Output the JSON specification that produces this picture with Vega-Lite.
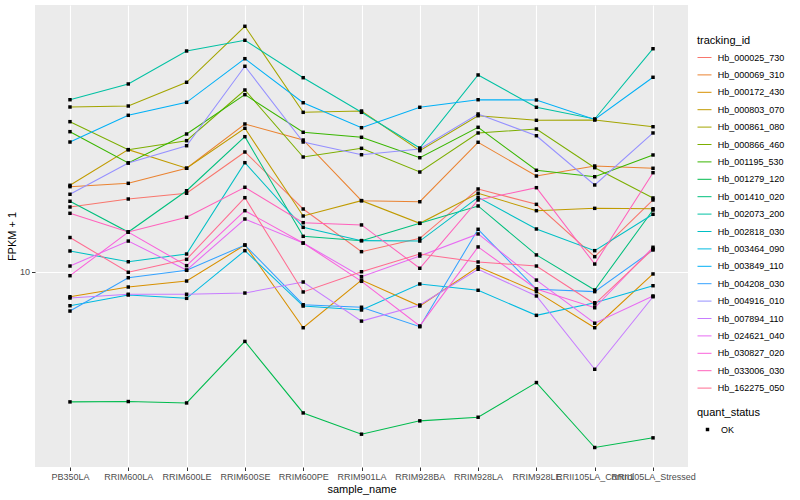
{
"$schema": "https://vega.github.io/schema/vega-lite/v6.json",
"width": 653, "height": 462,
"autosize": {"type": "none"},
"padding": {"left": 35, "top": 5, "right": 112, "bottom": 33},
"background": "white",
"config": {
  "font": "Liberation Sans",
  "view": {"fill": "#EBEBEB", "stroke": null},
  "axis": {"domain": false, "grid": true, "gridColor": "white", "gridWidth": 1.1, "tickColor": "#333333", "tickSize": 3.5, "labelColor": "#4D4D4D", "labelFontSize": 9, "labelPadding": 2, "titleFontSize": 11, "titleFontWeight": "normal", "titleColor": "black", "titlePadding": 2}
},
"datasets": {
"expr": [
{"tracking_id":"Hb_000025_730","sample_name":"PB350LA","FPKM":16.47,"quant_status":"OK"},
{"tracking_id":"Hb_000025_730","sample_name":"RRIM600LA","FPKM":17.51,"quant_status":"OK"},
{"tracking_id":"Hb_000025_730","sample_name":"RRIM600LE","FPKM":18.30,"quant_status":"OK"},
{"tracking_id":"Hb_000025_730","sample_name":"RRIM600SE","FPKM":25.12,"quant_status":"OK"},
{"tracking_id":"Hb_000025_730","sample_name":"RRIM600PE","FPKM":16.22,"quant_status":"OK"},
{"tracking_id":"Hb_000025_730","sample_name":"RRIM901LA","FPKM":11.69,"quant_status":"OK"},
{"tracking_id":"Hb_000025_730","sample_name":"RRIM928BA","FPKM":12.95,"quant_status":"OK"},
{"tracking_id":"Hb_000025_730","sample_name":"RRIM928LA","FPKM":18.91,"quant_status":"OK"},
{"tracking_id":"Hb_000025_730","sample_name":"RRIM928LE","FPKM":16.81,"quant_status":"OK"},
{"tracking_id":"Hb_000025_730","sample_name":"RRII105LA_Control","FPKM":11.25,"quant_status":"OK"},
{"tracking_id":"Hb_000025_730","sample_name":"RRII105LA_Stressed","FPKM":17.38,"quant_status":"OK"},
{"tracking_id":"Hb_000069_310","sample_name":"PB350LA","FPKM":19.25,"quant_status":"OK"},
{"tracking_id":"Hb_000069_310","sample_name":"RRIM600LA","FPKM":19.75,"quant_status":"OK"},
{"tracking_id":"Hb_000069_310","sample_name":"RRIM600LE","FPKM":22.17,"quant_status":"OK"},
{"tracking_id":"Hb_000069_310","sample_name":"RRIM600SE","FPKM":31.14,"quant_status":"OK"},
{"tracking_id":"Hb_000069_310","sample_name":"RRIM600PE","FPKM":27.54,"quant_status":"OK"},
{"tracking_id":"Hb_000069_310","sample_name":"RRIM901LA","FPKM":17.29,"quant_status":"OK"},
{"tracking_id":"Hb_000069_310","sample_name":"RRIM928BA","FPKM":17.15,"quant_status":"OK"},
{"tracking_id":"Hb_000069_310","sample_name":"RRIM928LA","FPKM":27.06,"quant_status":"OK"},
{"tracking_id":"Hb_000069_310","sample_name":"RRIM928LE","FPKM":20.89,"quant_status":"OK"},
{"tracking_id":"Hb_000069_310","sample_name":"RRII105LA_Control","FPKM":22.56,"quant_status":"OK"},
{"tracking_id":"Hb_000069_310","sample_name":"RRII105LA_Stressed","FPKM":22.17,"quant_status":"OK"},
{"tracking_id":"Hb_000172_430","sample_name":"PB350LA","FPKM":8.27,"quant_status":"OK"},
{"tracking_id":"Hb_000172_430","sample_name":"RRIM600LA","FPKM":8.91,"quant_status":"OK"},
{"tracking_id":"Hb_000172_430","sample_name":"RRIM600LE","FPKM":9.33,"quant_status":"OK"},
{"tracking_id":"Hb_000172_430","sample_name":"RRIM600SE","FPKM":12.30,"quant_status":"OK"},
{"tracking_id":"Hb_000172_430","sample_name":"RRIM600PE","FPKM":6.52,"quant_status":"OK"},
{"tracking_id":"Hb_000172_430","sample_name":"RRIM901LA","FPKM":9.40,"quant_status":"OK"},
{"tracking_id":"Hb_000172_430","sample_name":"RRIM928BA","FPKM":7.70,"quant_status":"OK"},
{"tracking_id":"Hb_000172_430","sample_name":"RRIM928LA","FPKM":10.41,"quant_status":"OK"},
{"tracking_id":"Hb_000172_430","sample_name":"RRIM928LE","FPKM":8.60,"quant_status":"OK"},
{"tracking_id":"Hb_000172_430","sample_name":"RRII105LA_Control","FPKM":6.52,"quant_status":"OK"},
{"tracking_id":"Hb_000172_430","sample_name":"RRII105LA_Stressed","FPKM":9.85,"quant_status":"OK"},
{"tracking_id":"Hb_000803_070","sample_name":"PB350LA","FPKM":19.45,"quant_status":"OK"},
{"tracking_id":"Hb_000803_070","sample_name":"RRIM600LA","FPKM":25.57,"quant_status":"OK"},
{"tracking_id":"Hb_000803_070","sample_name":"RRIM600LE","FPKM":22.17,"quant_status":"OK"},
{"tracking_id":"Hb_000803_070","sample_name":"RRIM600SE","FPKM":30.13,"quant_status":"OK"},
{"tracking_id":"Hb_000803_070","sample_name":"RRIM600PE","FPKM":15.37,"quant_status":"OK"},
{"tracking_id":"Hb_000803_070","sample_name":"RRIM901LA","FPKM":17.29,"quant_status":"OK"},
{"tracking_id":"Hb_000803_070","sample_name":"RRIM928BA","FPKM":14.53,"quant_status":"OK"},
{"tracking_id":"Hb_000803_070","sample_name":"RRIM928LA","FPKM":18.30,"quant_status":"OK"},
{"tracking_id":"Hb_000803_070","sample_name":"RRIM928LE","FPKM":16.01,"quant_status":"OK"},
{"tracking_id":"Hb_000803_070","sample_name":"RRII105LA_Control","FPKM":16.30,"quant_status":"OK"},
{"tracking_id":"Hb_000803_070","sample_name":"RRII105LA_Stressed","FPKM":16.25,"quant_status":"OK"},
{"tracking_id":"Hb_000861_080","sample_name":"PB350LA","FPKM":35.48,"quant_status":"OK"},
{"tracking_id":"Hb_000861_080","sample_name":"RRIM600LA","FPKM":35.75,"quant_status":"OK"},
{"tracking_id":"Hb_000861_080","sample_name":"RRIM600LE","FPKM":42.89,"quant_status":"OK"},
{"tracking_id":"Hb_000861_080","sample_name":"RRIM600SE","FPKM":65.92,"quant_status":"OK"},
{"tracking_id":"Hb_000861_080","sample_name":"RRIM600PE","FPKM":34.06,"quant_status":"OK"},
{"tracking_id":"Hb_000861_080","sample_name":"RRIM901LA","FPKM":34.41,"quant_status":"OK"},
{"tracking_id":"Hb_000861_080","sample_name":"RRIM928BA","FPKM":25.37,"quant_status":"OK"},
{"tracking_id":"Hb_000861_080","sample_name":"RRIM928LA","FPKM":33.19,"quant_status":"OK"},
{"tracking_id":"Hb_000861_080","sample_name":"RRIM928LE","FPKM":32.04,"quant_status":"OK"},
{"tracking_id":"Hb_000861_080","sample_name":"RRII105LA_Control","FPKM":32.11,"quant_status":"OK"},
{"tracking_id":"Hb_000861_080","sample_name":"RRII105LA_Stressed","FPKM":30.50,"quant_status":"OK"},
{"tracking_id":"Hb_000866_460","sample_name":"PB350LA","FPKM":31.70,"quant_status":"OK"},
{"tracking_id":"Hb_000866_460","sample_name":"RRIM600LA","FPKM":25.57,"quant_status":"OK"},
{"tracking_id":"Hb_000866_460","sample_name":"RRIM600LE","FPKM":27.40,"quant_status":"OK"},
{"tracking_id":"Hb_000866_460","sample_name":"RRIM600SE","FPKM":40.43,"quant_status":"OK"},
{"tracking_id":"Hb_000866_460","sample_name":"RRIM600PE","FPKM":24.17,"quant_status":"OK"},
{"tracking_id":"Hb_000866_460","sample_name":"RRIM901LA","FPKM":25.84,"quant_status":"OK"},
{"tracking_id":"Hb_000866_460","sample_name":"RRIM928BA","FPKM":21.54,"quant_status":"OK"},
{"tracking_id":"Hb_000866_460","sample_name":"RRIM928LA","FPKM":29.07,"quant_status":"OK"},
{"tracking_id":"Hb_000866_460","sample_name":"RRIM928LE","FPKM":29.97,"quant_status":"OK"},
{"tracking_id":"Hb_000866_460","sample_name":"RRII105LA_Control","FPKM":22.27,"quant_status":"OK"},
{"tracking_id":"Hb_000866_460","sample_name":"RRII105LA_Stressed","FPKM":17.65,"quant_status":"OK"},
{"tracking_id":"Hb_001195_530","sample_name":"PB350LA","FPKM":29.36,"quant_status":"OK"},
{"tracking_id":"Hb_001195_530","sample_name":"RRIM600LA","FPKM":23.09,"quant_status":"OK"},
{"tracking_id":"Hb_001195_530","sample_name":"RRIM600LE","FPKM":28.84,"quant_status":"OK"},
{"tracking_id":"Hb_001195_530","sample_name":"RRIM600SE","FPKM":39.00,"quant_status":"OK"},
{"tracking_id":"Hb_001195_530","sample_name":"RRIM600PE","FPKM":29.22,"quant_status":"OK"},
{"tracking_id":"Hb_001195_530","sample_name":"RRIM901LA","FPKM":28.12,"quant_status":"OK"},
{"tracking_id":"Hb_001195_530","sample_name":"RRIM928BA","FPKM":24.04,"quant_status":"OK"},
{"tracking_id":"Hb_001195_530","sample_name":"RRIM928LA","FPKM":30.36,"quant_status":"OK"},
{"tracking_id":"Hb_001195_530","sample_name":"RRIM928LE","FPKM":21.83,"quant_status":"OK"},
{"tracking_id":"Hb_001195_530","sample_name":"RRII105LA_Control","FPKM":20.78,"quant_status":"OK"},
{"tracking_id":"Hb_001195_530","sample_name":"RRII105LA_Stressed","FPKM":24.55,"quant_status":"OK"},
{"tracking_id":"Hb_001279_120","sample_name":"PB350LA","FPKM":3.69,"quant_status":"OK"},
{"tracking_id":"Hb_001279_120","sample_name":"RRIM600LA","FPKM":3.70,"quant_status":"OK"},
{"tracking_id":"Hb_001279_120","sample_name":"RRIM600LE","FPKM":3.66,"quant_status":"OK"},
{"tracking_id":"Hb_001279_120","sample_name":"RRIM600SE","FPKM":5.87,"quant_status":"OK"},
{"tracking_id":"Hb_001279_120","sample_name":"RRIM600PE","FPKM":3.39,"quant_status":"OK"},
{"tracking_id":"Hb_001279_120","sample_name":"RRIM901LA","FPKM":2.88,"quant_status":"OK"},
{"tracking_id":"Hb_001279_120","sample_name":"RRIM928BA","FPKM":3.19,"quant_status":"OK"},
{"tracking_id":"Hb_001279_120","sample_name":"RRIM928LA","FPKM":3.28,"quant_status":"OK"},
{"tracking_id":"Hb_001279_120","sample_name":"RRIM928LE","FPKM":4.28,"quant_status":"OK"},
{"tracking_id":"Hb_001279_120","sample_name":"RRII105LA_Control","FPKM":2.60,"quant_status":"OK"},
{"tracking_id":"Hb_001279_120","sample_name":"RRII105LA_Stressed","FPKM":2.80,"quant_status":"OK"},
{"tracking_id":"Hb_001410_020","sample_name":"PB350LA","FPKM":17.21,"quant_status":"OK"},
{"tracking_id":"Hb_001410_020","sample_name":"RRIM600LA","FPKM":13.59,"quant_status":"OK"},
{"tracking_id":"Hb_001410_020","sample_name":"RRIM600LE","FPKM":18.66,"quant_status":"OK"},
{"tracking_id":"Hb_001410_020","sample_name":"RRIM600SE","FPKM":28.25,"quant_status":"OK"},
{"tracking_id":"Hb_001410_020","sample_name":"RRIM600PE","FPKM":13.15,"quant_status":"OK"},
{"tracking_id":"Hb_001410_020","sample_name":"RRIM901LA","FPKM":12.72,"quant_status":"OK"},
{"tracking_id":"Hb_001410_020","sample_name":"RRIM928BA","FPKM":14.53,"quant_status":"OK"},
{"tracking_id":"Hb_001410_020","sample_name":"RRIM928LA","FPKM":16.60,"quant_status":"OK"},
{"tracking_id":"Hb_001410_020","sample_name":"RRIM928LE","FPKM":11.40,"quant_status":"OK"},
{"tracking_id":"Hb_001410_020","sample_name":"RRII105LA_Control","FPKM":8.71,"quant_status":"OK"},
{"tracking_id":"Hb_001410_020","sample_name":"RRII105LA_Stressed","FPKM":16.09,"quant_status":"OK"},
{"tracking_id":"Hb_002073_200","sample_name":"PB350LA","FPKM":37.52,"quant_status":"OK"},
{"tracking_id":"Hb_002073_200","sample_name":"RRIM600LA","FPKM":42.34,"quant_status":"OK"},
{"tracking_id":"Hb_002073_200","sample_name":"RRIM600LE","FPKM":54.54,"quant_status":"OK"},
{"tracking_id":"Hb_002073_200","sample_name":"RRIM600SE","FPKM":59.20,"quant_status":"OK"},
{"tracking_id":"Hb_002073_200","sample_name":"RRIM600PE","FPKM":44.43,"quant_status":"OK"},
{"tracking_id":"Hb_002073_200","sample_name":"RRIM901LA","FPKM":34.06,"quant_status":"OK"},
{"tracking_id":"Hb_002073_200","sample_name":"RRIM928BA","FPKM":25.90,"quant_status":"OK"},
{"tracking_id":"Hb_002073_200","sample_name":"RRIM928LA","FPKM":45.37,"quant_status":"OK"},
{"tracking_id":"Hb_002073_200","sample_name":"RRIM928LE","FPKM":35.40,"quant_status":"OK"},
{"tracking_id":"Hb_002073_200","sample_name":"RRII105LA_Control","FPKM":32.36,"quant_status":"OK"},
{"tracking_id":"Hb_002073_200","sample_name":"RRII105LA_Stressed","FPKM":55.50,"quant_status":"OK"},
{"tracking_id":"Hb_002818_030","sample_name":"PB350LA","FPKM":11.75,"quant_status":"OK"},
{"tracking_id":"Hb_002818_030","sample_name":"RRIM600LA","FPKM":10.82,"quant_status":"OK"},
{"tracking_id":"Hb_002818_030","sample_name":"RRIM600LE","FPKM":11.48,"quant_status":"OK"},
{"tracking_id":"Hb_002818_030","sample_name":"RRIM600SE","FPKM":23.14,"quant_status":"OK"},
{"tracking_id":"Hb_002818_030","sample_name":"RRIM600PE","FPKM":14.09,"quant_status":"OK"},
{"tracking_id":"Hb_002818_030","sample_name":"RRIM901LA","FPKM":12.72,"quant_status":"OK"},
{"tracking_id":"Hb_002818_030","sample_name":"RRIM928BA","FPKM":12.68,"quant_status":"OK"},
{"tracking_id":"Hb_002818_030","sample_name":"RRIM928LA","FPKM":17.74,"quant_status":"OK"},
{"tracking_id":"Hb_002818_030","sample_name":"RRIM928LE","FPKM":13.91,"quant_status":"OK"},
{"tracking_id":"Hb_002818_030","sample_name":"RRII105LA_Control","FPKM":11.78,"quant_status":"OK"},
{"tracking_id":"Hb_002818_030","sample_name":"RRII105LA_Stressed","FPKM":15.57,"quant_status":"OK"},
{"tracking_id":"Hb_003464_090","sample_name":"PB350LA","FPKM":7.72,"quant_status":"OK"},
{"tracking_id":"Hb_003464_090","sample_name":"RRIM600LA","FPKM":8.38,"quant_status":"OK"},
{"tracking_id":"Hb_003464_090","sample_name":"RRIM600LE","FPKM":8.17,"quant_status":"OK"},
{"tracking_id":"Hb_003464_090","sample_name":"RRIM600SE","FPKM":11.78,"quant_status":"OK"},
{"tracking_id":"Hb_003464_090","sample_name":"RRIM600PE","FPKM":7.70,"quant_status":"OK"},
{"tracking_id":"Hb_003464_090","sample_name":"RRIM901LA","FPKM":7.47,"quant_status":"OK"},
{"tracking_id":"Hb_003464_090","sample_name":"RRIM928BA","FPKM":9.12,"quant_status":"OK"},
{"tracking_id":"Hb_003464_090","sample_name":"RRIM928LA","FPKM":8.69,"quant_status":"OK"},
{"tracking_id":"Hb_003464_090","sample_name":"RRIM928LE","FPKM":7.17,"quant_status":"OK"},
{"tracking_id":"Hb_003464_090","sample_name":"RRII105LA_Control","FPKM":7.90,"quant_status":"OK"},
{"tracking_id":"Hb_003464_090","sample_name":"RRII105LA_Stressed","FPKM":9.00,"quant_status":"OK"},
{"tracking_id":"Hb_003849_110","sample_name":"PB350LA","FPKM":27.12,"quant_status":"OK"},
{"tracking_id":"Hb_003849_110","sample_name":"RRIM600LA","FPKM":33.29,"quant_status":"OK"},
{"tracking_id":"Hb_003849_110","sample_name":"RRIM600LE","FPKM":36.78,"quant_status":"OK"},
{"tracking_id":"Hb_003849_110","sample_name":"RRIM600SE","FPKM":51.41,"quant_status":"OK"},
{"tracking_id":"Hb_003849_110","sample_name":"RRIM600PE","FPKM":36.67,"quant_status":"OK"},
{"tracking_id":"Hb_003849_110","sample_name":"RRIM901LA","FPKM":30.27,"quant_status":"OK"},
{"tracking_id":"Hb_003849_110","sample_name":"RRIM928BA","FPKM":35.40,"quant_status":"OK"},
{"tracking_id":"Hb_003849_110","sample_name":"RRIM928LA","FPKM":37.52,"quant_status":"OK"},
{"tracking_id":"Hb_003849_110","sample_name":"RRIM928LE","FPKM":37.44,"quant_status":"OK"},
{"tracking_id":"Hb_003849_110","sample_name":"RRII105LA_Control","FPKM":32.23,"quant_status":"OK"},
{"tracking_id":"Hb_003849_110","sample_name":"RRII105LA_Stressed","FPKM":44.57,"quant_status":"OK"},
{"tracking_id":"Hb_004208_030","sample_name":"PB350LA","FPKM":7.41,"quant_status":"OK"},
{"tracking_id":"Hb_004208_030","sample_name":"RRIM600LA","FPKM":9.57,"quant_status":"OK"},
{"tracking_id":"Hb_004208_030","sample_name":"RRIM600LE","FPKM":10.13,"quant_status":"OK"},
{"tracking_id":"Hb_004208_030","sample_name":"RRIM600SE","FPKM":12.30,"quant_status":"OK"},
{"tracking_id":"Hb_004208_030","sample_name":"RRIM600PE","FPKM":7.78,"quant_status":"OK"},
{"tracking_id":"Hb_004208_030","sample_name":"RRIM901LA","FPKM":7.63,"quant_status":"OK"},
{"tracking_id":"Hb_004208_030","sample_name":"RRIM928BA","FPKM":6.57,"quant_status":"OK"},
{"tracking_id":"Hb_004208_030","sample_name":"RRIM928LA","FPKM":13.88,"quant_status":"OK"},
{"tracking_id":"Hb_004208_030","sample_name":"RRIM928LE","FPKM":8.76,"quant_status":"OK"},
{"tracking_id":"Hb_004208_030","sample_name":"RRII105LA_Control","FPKM":8.60,"quant_status":"OK"},
{"tracking_id":"Hb_004208_030","sample_name":"RRII105LA_Stressed","FPKM":11.84,"quant_status":"OK"},
{"tracking_id":"Hb_004916_010","sample_name":"PB350LA","FPKM":18.16,"quant_status":"OK"},
{"tracking_id":"Hb_004916_010","sample_name":"RRIM600LA","FPKM":23.09,"quant_status":"OK"},
{"tracking_id":"Hb_004916_010","sample_name":"RRIM600LE","FPKM":26.36,"quant_status":"OK"},
{"tracking_id":"Hb_004916_010","sample_name":"RRIM600SE","FPKM":48.50,"quant_status":"OK"},
{"tracking_id":"Hb_004916_010","sample_name":"RRIM600PE","FPKM":27.12,"quant_status":"OK"},
{"tracking_id":"Hb_004916_010","sample_name":"RRIM901LA","FPKM":24.60,"quant_status":"OK"},
{"tracking_id":"Hb_004916_010","sample_name":"RRIM928BA","FPKM":25.70,"quant_status":"OK"},
{"tracking_id":"Hb_004916_010","sample_name":"RRIM928LA","FPKM":33.63,"quant_status":"OK"},
{"tracking_id":"Hb_004916_010","sample_name":"RRIM928LE","FPKM":28.46,"quant_status":"OK"},
{"tracking_id":"Hb_004916_010","sample_name":"RRII105LA_Control","FPKM":19.50,"quant_status":"OK"},
{"tracking_id":"Hb_004916_010","sample_name":"RRII105LA_Stressed","FPKM":29.07,"quant_status":"OK"},
{"tracking_id":"Hb_007894_110","sample_name":"PB350LA","FPKM":8.19,"quant_status":"OK"},
{"tracking_id":"Hb_007894_110","sample_name":"RRIM600LA","FPKM":8.43,"quant_status":"OK"},
{"tracking_id":"Hb_007894_110","sample_name":"RRIM600LE","FPKM":8.43,"quant_status":"OK"},
{"tracking_id":"Hb_007894_110","sample_name":"RRIM600SE","FPKM":8.51,"quant_status":"OK"},
{"tracking_id":"Hb_007894_110","sample_name":"RRIM600PE","FPKM":9.26,"quant_status":"OK"},
{"tracking_id":"Hb_007894_110","sample_name":"RRIM901LA","FPKM":6.86,"quant_status":"OK"},
{"tracking_id":"Hb_007894_110","sample_name":"RRIM928BA","FPKM":7.76,"quant_status":"OK"},
{"tracking_id":"Hb_007894_110","sample_name":"RRIM928LA","FPKM":10.21,"quant_status":"OK"},
{"tracking_id":"Hb_007894_110","sample_name":"RRIM928LE","FPKM":8.32,"quant_status":"OK"},
{"tracking_id":"Hb_007894_110","sample_name":"RRII105LA_Control","FPKM":4.74,"quant_status":"OK"},
{"tracking_id":"Hb_007894_110","sample_name":"RRII105LA_Stressed","FPKM":8.27,"quant_status":"OK"},
{"tracking_id":"Hb_024621_040","sample_name":"PB350LA","FPKM":10.47,"quant_status":"OK"},
{"tracking_id":"Hb_024621_040","sample_name":"RRIM600LA","FPKM":12.68,"quant_status":"OK"},
{"tracking_id":"Hb_024621_040","sample_name":"RRIM600LE","FPKM":10.15,"quant_status":"OK"},
{"tracking_id":"Hb_024621_040","sample_name":"RRIM600SE","FPKM":15.02,"quant_status":"OK"},
{"tracking_id":"Hb_024621_040","sample_name":"RRIM600PE","FPKM":12.49,"quant_status":"OK"},
{"tracking_id":"Hb_024621_040","sample_name":"RRIM901LA","FPKM":9.65,"quant_status":"OK"},
{"tracking_id":"Hb_024621_040","sample_name":"RRIM928BA","FPKM":11.30,"quant_status":"OK"},
{"tracking_id":"Hb_024621_040","sample_name":"RRIM928LA","FPKM":13.39,"quant_status":"OK"},
{"tracking_id":"Hb_024621_040","sample_name":"RRIM928LE","FPKM":9.40,"quant_status":"OK"},
{"tracking_id":"Hb_024621_040","sample_name":"RRII105LA_Control","FPKM":6.75,"quant_status":"OK"},
{"tracking_id":"Hb_024621_040","sample_name":"RRII105LA_Stressed","FPKM":8.32,"quant_status":"OK"},
{"tracking_id":"Hb_030827_020","sample_name":"PB350LA","FPKM":9.72,"quant_status":"OK"},
{"tracking_id":"Hb_030827_020","sample_name":"RRIM600LA","FPKM":13.59,"quant_status":"OK"},
{"tracking_id":"Hb_030827_020","sample_name":"RRIM600LE","FPKM":10.50,"quant_status":"OK"},
{"tracking_id":"Hb_030827_020","sample_name":"RRIM600SE","FPKM":16.01,"quant_status":"OK"},
{"tracking_id":"Hb_030827_020","sample_name":"RRIM600PE","FPKM":12.49,"quant_status":"OK"},
{"tracking_id":"Hb_030827_020","sample_name":"RRIM901LA","FPKM":9.31,"quant_status":"OK"},
{"tracking_id":"Hb_030827_020","sample_name":"RRIM928BA","FPKM":6.61,"quant_status":"OK"},
{"tracking_id":"Hb_030827_020","sample_name":"RRIM928LA","FPKM":12.12,"quant_status":"OK"},
{"tracking_id":"Hb_030827_020","sample_name":"RRIM928LE","FPKM":8.78,"quant_status":"OK"},
{"tracking_id":"Hb_030827_020","sample_name":"RRII105LA_Control","FPKM":7.60,"quant_status":"OK"},
{"tracking_id":"Hb_030827_020","sample_name":"RRII105LA_Stressed","FPKM":12.09,"quant_status":"OK"},
{"tracking_id":"Hb_033006_030","sample_name":"PB350LA","FPKM":15.69,"quant_status":"OK"},
{"tracking_id":"Hb_033006_030","sample_name":"RRIM600LA","FPKM":13.59,"quant_status":"OK"},
{"tracking_id":"Hb_033006_030","sample_name":"RRIM600LE","FPKM":15.22,"quant_status":"OK"},
{"tracking_id":"Hb_033006_030","sample_name":"RRIM600SE","FPKM":19.16,"quant_status":"OK"},
{"tracking_id":"Hb_033006_030","sample_name":"RRIM600PE","FPKM":14.60,"quant_status":"OK"},
{"tracking_id":"Hb_033006_030","sample_name":"RRIM901LA","FPKM":14.35,"quant_status":"OK"},
{"tracking_id":"Hb_033006_030","sample_name":"RRIM928BA","FPKM":10.29,"quant_status":"OK"},
{"tracking_id":"Hb_033006_030","sample_name":"RRIM928LA","FPKM":17.38,"quant_status":"OK"},
{"tracking_id":"Hb_033006_030","sample_name":"RRIM928LE","FPKM":19.10,"quant_status":"OK"},
{"tracking_id":"Hb_033006_030","sample_name":"RRII105LA_Control","FPKM":10.63,"quant_status":"OK"},
{"tracking_id":"Hb_033006_030","sample_name":"RRII105LA_Stressed","FPKM":21.43,"quant_status":"OK"},
{"tracking_id":"Hb_162275_050","sample_name":"PB350LA","FPKM":13.03,"quant_status":"OK"},
{"tracking_id":"Hb_162275_050","sample_name":"RRIM600LA","FPKM":9.98,"quant_status":"OK"},
{"tracking_id":"Hb_162275_050","sample_name":"RRIM600LE","FPKM":11.02,"quant_status":"OK"},
{"tracking_id":"Hb_162275_050","sample_name":"RRIM600SE","FPKM":17.69,"quant_status":"OK"},
{"tracking_id":"Hb_162275_050","sample_name":"RRIM600PE","FPKM":8.58,"quant_status":"OK"},
{"tracking_id":"Hb_162275_050","sample_name":"RRIM901LA","FPKM":10.02,"quant_status":"OK"},
{"tracking_id":"Hb_162275_050","sample_name":"RRIM928BA","FPKM":11.48,"quant_status":"OK"},
{"tracking_id":"Hb_162275_050","sample_name":"RRIM928LA","FPKM":10.80,"quant_status":"OK"},
{"tracking_id":"Hb_162275_050","sample_name":"RRIM928LE","FPKM":10.47,"quant_status":"OK"},
{"tracking_id":"Hb_162275_050","sample_name":"RRII105LA_Control","FPKM":7.82,"quant_status":"OK"},
{"tracking_id":"Hb_162275_050","sample_name":"RRII105LA_Stressed","FPKM":11.93,"quant_status":"OK"}
]
},
"data": {"name": "expr"},
"encoding": {
  "x": {"field": "sample_name", "type": "nominal",
        "sort": ["PB350LA","RRIM600LA","RRIM600LE","RRIM600SE","RRIM600PE","RRIM901LA","RRIM928BA","RRIM928LA","RRIM928LE","RRII105LA_Control","RRII105LA_Stressed"],
        "scale": {"type": "point", "padding": 0.6},
        "axis": {"labelAngle": 0, "title": "sample_name", "labelOverlap": false}},
  "y": {"field": "FPKM", "type": "quantitative",
        "scale": {"type": "log", "domain": [2.2387, 77.62], "nice": false, "zero": false},
        "axis": {"values": [10], "title": "FPKM + 1", "format": "d"}}
},
"layer": [
  {"mark": {"type": "line", "strokeWidth": 1.05},
   "encoding": {
     "color": {"field": "tracking_id", "type": "nominal",
       "scale": {"range": ["#F8766D","#EA8331","#D89000","#C09B00","#A3A500","#7CAE00","#39B600","#00BB4E","#00BF7D","#00C1A3","#00BFC4","#00BAE0","#00B0F6","#35A2FF","#9590FF","#C77CFF","#E76BF3","#FA62DB","#FF62BC","#FF6C91"]},
       "legend": {"orient": "none", "legendX": 662, "legendY": 30, "title": "tracking_id", "titleFontSize": 11, "titleFontWeight": "normal", "titleColor": "black", "titlePadding": 4, "labelFontSize": 9, "labelColor": "black", "labelOffset": 5.7, "symbolType": "stroke", "symbolSize": 196, "symbolStrokeWidth": 1, "rowPadding": 4.4}}
   }},
  {"mark": {"type": "point", "filled": true, "color": "black", "size": 12, "opacity": 1},
   "encoding": {
     "shape": {"field": "quant_status", "type": "nominal",
       "scale": {"range": ["square"]},
       "legend": {"orient": "none", "legendX": 662, "legendY": 402, "title": "quant_status", "titleFontSize": 11, "titleFontWeight": "normal", "titleColor": "black", "titlePadding": 7, "labelFontSize": 9, "labelColor": "black", "symbolSize": 12, "symbolFillColor": "black", "symbolStrokeColor": "black", "symbolOffset": 6, "labelOffset": 9}}
   }}
]
}
